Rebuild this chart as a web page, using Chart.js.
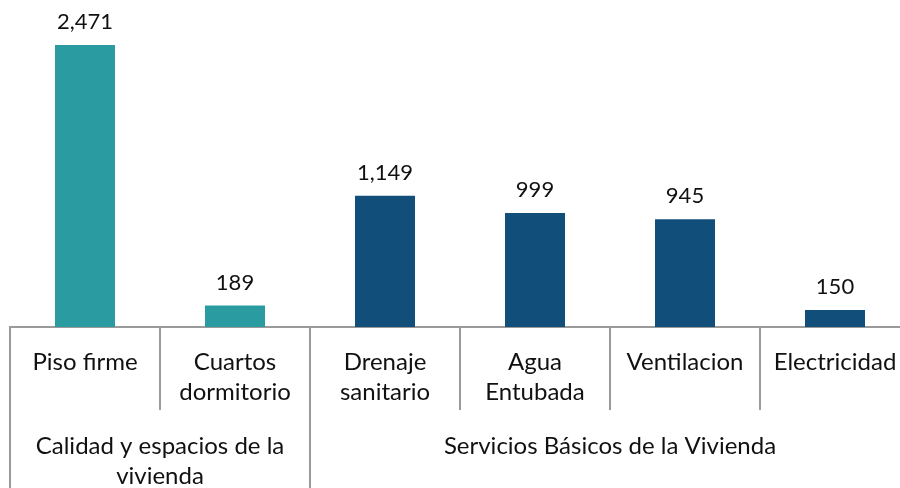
<!DOCTYPE html>
<html>
<head>
<meta charset="utf-8">
<script src="https://cdn.jsdelivr.net/npm/chart.js@4"></script>
<style>
  body { margin: 0; background: #fff; }
  #wrap { width: 900px; height: 488px; overflow: hidden; }
</style>
</head>
<body>
<div id="wrap"><canvas id="chart" width="910" height="488"></canvas></div>
<script>
const categories = [
  ["Piso firme"],
  ["Cuartos", "dormitorio"],
  ["Drenaje", "sanitario"],
  ["Agua", "Entubada"],
  ["Ventilacion"],
  ["Electricidad"],
];
const values = [2471, 189, 1149, 999, 945, 150];
const groupLabels = [["Calidad y espacios de la", "vivienda"], ["Servicios Básicos de la Vivienda"]];
const groupRanges = [[0, 1], [2, 5]];

const teal = "#2A9CA1";
const navy = "#114F7A";
const lineColor = "#9a9a9a";
const fontFamily = "Lato, 'Open Sans', sans-serif";

const barColors = values.map((v, i) => (i <= groupRanges[0][1] ? teal : navy));

// value labels above bars
const valueLabels = {
  id: "valueLabels",
  afterDatasetsDraw(chart) {
    const ctx = chart.ctx;
    const meta = chart.getDatasetMeta(0);
    ctx.save();
    ctx.font = "22px " + fontFamily;
    ctx.fillStyle = "#111";
    ctx.textAlign = "center";
    ctx.textBaseline = "bottom";
    meta.data.forEach((bar, i) => {
      ctx.fillText(values[i].toLocaleString("en-US"), bar.x, bar.y - 12);
    });
    ctx.restore();
  },
};

// group row: long separators and group titles
const groupAxis = {
  id: "groupAxis",
  afterDraw(chart) {
    const ctx = chart.ctx;
    const x = chart.scales.x;
    const half = (x.getPixelForTick(1) - x.getPixelForTick(0)) / 2;
    const top = chart.chartArea.bottom;
    ctx.save();
    ctx.strokeStyle = lineColor;
    ctx.lineWidth = 2;
    groupRanges.forEach(([a, b]) => {
      [x.getPixelForTick(a) - half, x.getPixelForTick(b) + half].forEach((px) => {
        ctx.beginPath();
        ctx.moveTo(px, top);
        ctx.lineTo(px, chart.height);
        ctx.stroke();
      });
    });
    ctx.font = "24px " + fontFamily;
    ctx.fillStyle = "#111";
    ctx.textAlign = "center";
    ctx.textBaseline = "middle";
    groupRanges.forEach(([a, b], g) => {
      const cx = (x.getPixelForTick(a) + x.getPixelForTick(b)) / 2;
      groupLabels[g].forEach((line, k) => {
        ctx.fillText(line, cx, 446 + k * 30);
      });
    });
    ctx.restore();
  },
};

new Chart(document.getElementById("chart"), {
  type: "bar",
  data: {
    labels: categories,
    datasets: [
      {
        data: values,
        backgroundColor: barColors,
        categoryPercentage: 1,
        barPercentage: 0.4,
      },
    ],
  },
  options: {
    responsive: false,
    animation: false,
    layout: { padding: { left: 10, right: 0, top: 0, bottom: 0 } },
    plugins: {
      legend: { display: false },
      tooltip: { enabled: false },
    },
    scales: {
      x: {
        offset: true,
        grid: {
          offset: true,
          drawOnChartArea: false,
          tickLength: 83,
          color: lineColor,
          lineWidth: 2,
        },
        border: { display: true, color: lineColor, width: 2 },
        ticks: {
          color: "#111",
          padding: -63,
          maxRotation: 0,
          autoSkip: false,
          font: { family: fontFamily, size: 24, lineHeight: 1.25 },
        },
        afterFit(scale) {
          scale.height = 161;
        },
      },
      y: {
        display: false,
        min: 0,
        max: 2865,
      },
    },
  },
  plugins: [valueLabels, groupAxis],
});
</script>
</body>
</html>
